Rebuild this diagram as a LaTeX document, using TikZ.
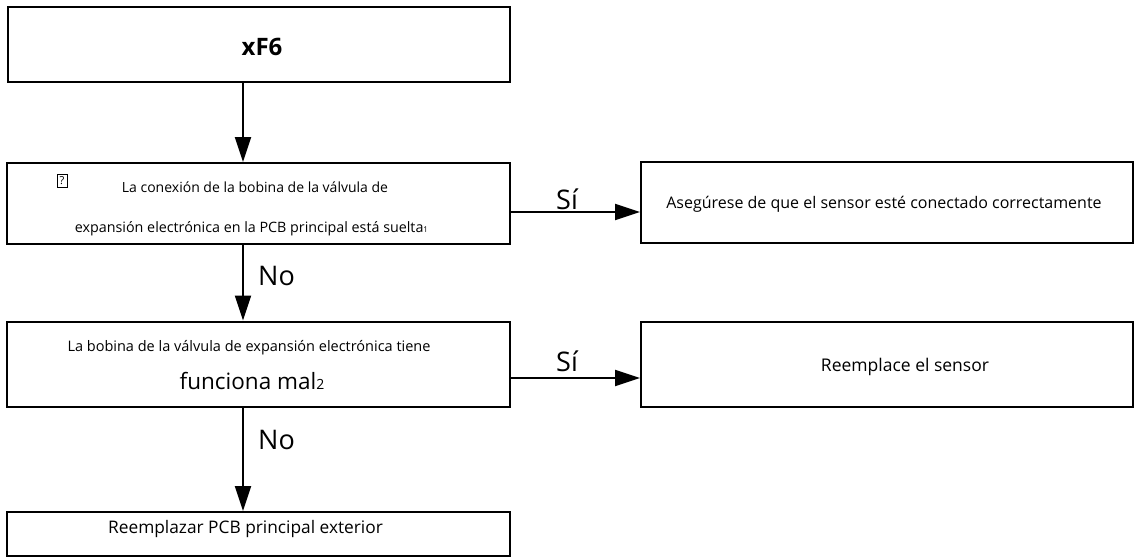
\documentclass[tikz,border=0pt]{standalone}
\usepackage{fontspec}
\setmainfont{Open Sans}
\usetikzlibrary{arrows.meta}
\begin{document}
\begin{tikzpicture}[x=1pt,y=-1pt,
  stepbox/.style={draw, line width=2pt, inner sep=0pt},
  arr/.style={line width=2pt, -{Triangle[length=25pt,width=16pt]}},
  lbl/.style={font=\fontsize{27}{30}\selectfont, inner sep=0pt, anchor=base west},
  txt/.style={inner sep=0pt, anchor=base}]
\useasboundingbox (0,0) rectangle (1137,558);
% boxes
\node[stepbox, minimum width=502pt, minimum height=75pt] (A) at (259,44.5) {};
\node[stepbox, minimum width=503pt, minimum height=81pt] (B) at (258.5,203.5) {};
\node[stepbox, minimum width=492pt, minimum height=81pt] (C) at (887,202.5) {};
\node[stepbox, minimum width=503pt, minimum height=85pt] (D) at (258.5,364) {};
\node[stepbox, minimum width=492pt, minimum height=85pt] (E) at (887,364) {};
\node[stepbox, minimum width=503pt, minimum height=44pt] (F) at (258.5,534) {};
% texts
\node[txt, font=\fontsize{24}{28}\selectfont\bfseries] (tA) at (262,55) {xF6};
\node[draw, line width=0.8pt, inner sep=0pt, minimum width=10pt, minimum height=13pt, font=\fontsize{11}{12}\selectfont] (q) at (62,181) {?};
\node[txt, font=\fontsize{14}{16}\selectfont] (tB1) at (255,192) {La conexión de la bobina de la válvula de};
\node[txt, font=\fontsize{14.3}{17}\selectfont] (tB2) at (251.5,232) {expansión electrónica en la PCB principal está suelta{\fontsize{8}{9}\selectfont 1}};
\node[txt, font=\fontsize{16}{19}\selectfont] (tC) at (884,208) {Asegúrese de que el sensor esté conectado correctamente};
\node[txt, font=\fontsize{14.5}{17}\selectfont] (tD1) at (249,351) {La bobina de la válvula de expansión electrónica tiene};
\node[txt, font=\fontsize{22.5}{26}\selectfont] (tD2) at (252,389) {funciona mal{\fontsize{14}{16}\selectfont 2}};
\node[txt, font=\fontsize{17.5}{21}\selectfont] (tE) at (905,371) {Reemplace el sensor};
\node[txt, font=\fontsize{17.3}{21}\selectfont] (tF) at (245.5,533) {Reemplazar PCB principal exterior};
% connectors
\coordinate (col) at (243,0);
\coordinate (r1) at (0,212);
\coordinate (r2) at (0,378);
\draw[arr] (col |- A.south) -- (col |- B.north);
\draw[arr] (col |- B.south) -- (col |- D.north);
\draw[arr] (col |- D.south) -- (col |- F.north);
\draw[arr] (B.east |- r1) -- (C.west |- r1);
\draw[arr] (D.east |- r2) -- (E.west |- r2);
% branch labels
\node[lbl] (no1) at (258,285) {No};
\node[lbl] (no2) at (258,449) {No};
\node[lbl] (si1) at (556,209) {Sí};
\node[lbl] (si2) at (556,371) {Sí};
\end{tikzpicture}
\end{document}
